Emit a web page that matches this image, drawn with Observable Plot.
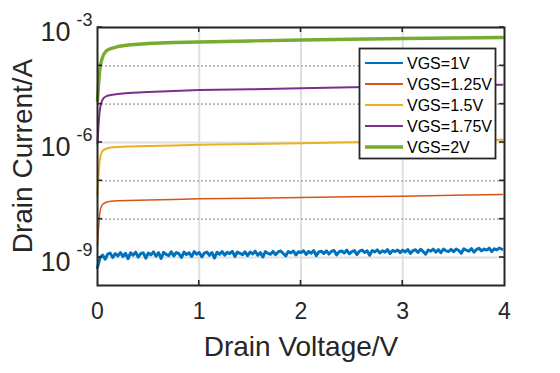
<!DOCTYPE html>
<html><head><meta charset="utf-8">
<script src="https://cdn.jsdelivr.net/npm/d3@7"></script>
<script src="https://cdn.jsdelivr.net/npm/@observablehq/plot@0.6"></script>
<style>
html,body{margin:0;padding:0;background:#fff;}
#chart{width:560px;height:373px;}
svg{font-family:"Liberation Sans",Arial,Helvetica,sans-serif;}
</style></head><body><div id="chart"></div>
<script>
// ---- data ----
const seriesNames = ["VGS=1V","VGS=1.25V","VGS=1.5V","VGS=1.75V","VGS=2V"];
const seriesColors = ["#0072BD","#D95319","#EDB120","#7E2F8E","#77AC30"];

// drain voltage (V) for the smooth curves
const vd = [0,0.01,0.02,0.03,0.045,0.06,0.09,0.13,0.2,0.3,0.5,0.75,1,1.5,2,2.5,3,3.5,3.98];
// drain current (A)
const id125 = [2.06e-9,5.70e-9,1.245e-8,1.897e-8,2.34e-8,2.56e-8,2.80e-8,2.92e-8,3.01e-8,3.07e-8,3.16e-8,3.26e-8,3.40e-8,3.50e-8,3.67e-8,3.83e-8,3.99e-8,4.19e-8,4.40e-8];
const id150 = [4.14e-8,1.377e-7,3.01e-7,4.58e-7,5.82e-7,6.37e-7,6.97e-7,7.40e-7,7.62e-7,7.85e-7,8.09e-7,8.34e-7,8.71e-7,9.14e-7,9.58e-7,1.012e-6,1.062e-6,1.127e-6,1.175e-6];
const id175 = [9.42e-7,2.77e-6,6.05e-6,9.23e-6,1.245e-5,1.449e-5,1.633e-5,1.734e-5,1.841e-5,1.954e-5,2.075e-5,2.203e-5,2.34e-5,2.44e-5,2.61e-5,2.75e-5,2.89e-5,3.07e-5,3.20e-5];
const id200 = [1.245e-5,3.07e-5,6.70e-5,1.084e-4,1.552e-4,1.977e-4,2.51e-4,2.83e-4,3.19e-4,3.49e-4,3.83e-4,4.06e-4,4.19e-4,4.45e-4,4.72e-4,4.95e-4,5.16e-4,5.32e-4,5.48e-4];

// VGS=1V noisy curve: drain voltage (mV) and drain current (nA)
const vdBlue_mV = [
0,25,50,75,100,125,150,175,200,225,
250,275,300,325,350,375,400,425,450,475,
500,525,550,575,600,625,650,675,700,725,
750,775,800,825,850,875,900,925,950,975,
1000,1025,1050,1075,1100,1125,1150,1175,1200,1225,
1250,1275,1300,1325,1350,1375,1400,1425,1450,1475,
1500,1525,1550,1575,1600,1625,1650,1675,1700,1725,
1750,1775,1800,1825,1850,1875,1900,1925,1950,1975,
2000,2025,2050,2075,2100,2125,2150,2175,2200,2225,
2250,2275,2300,2325,2350,2375,2400,2425,2450,2475,
2500,2525,2550,2575,2600,2625,2650,2675,2700,2725,
2750,2775,2800,2825,2850,2875,2900,2925,2950,2975,
3000,3025,3050,3075,3100,3125,3150,3175,3200,3225,
3250,3275,3300,3325,3350,3375,3400,3425,3450,3475,
3500,3525,3550,3575,3600,3625,3650,3675,3700,3725,
3750,3775,3800,3825,3850,3875,3900,3925,3950,3975];
const id100_nA = [
0.55,0.98,1.16,0.90,1.22,1.30,1.00,1.26,1.10,1.34,
1.06,1.29,0.93,1.33,1.15,1.38,1.03,1.27,1.32,0.96,
1.31,1.17,1.40,1.08,1.34,0.94,1.36,1.20,1.12,1.41,
1.10,1.35,1.26,1.00,1.38,1.19,1.33,1.06,1.42,1.22,
1.35,1.04,1.30,1.39,1.14,1.34,0.97,1.37,1.21,1.43,
1.15,1.36,1.26,1.45,1.07,1.38,1.29,1.18,1.41,1.11,
1.39,1.24,1.46,1.14,1.34,1.03,1.42,1.29,1.21,1.44,
1.18,1.40,1.48,1.27,1.10,1.43,1.32,1.47,1.16,1.41,
1.35,1.50,1.20,1.44,1.30,1.52,1.12,1.40,1.46,1.27,
1.49,1.23,1.45,1.53,1.17,1.41,1.48,1.31,1.55,1.25,
1.42,1.51,1.19,1.47,1.56,1.35,1.49,1.14,1.52,1.40,
1.58,1.31,1.50,1.38,1.60,1.26,1.53,1.43,1.57,1.34,
1.55,1.40,1.62,1.28,1.51,1.59,1.36,1.64,1.44,1.22,
1.57,1.46,1.65,1.38,1.61,1.33,1.67,1.49,1.43,1.63,
1.41,1.66,1.52,1.30,1.69,1.55,1.46,1.71,1.38,1.62,
1.73,1.49,1.66,1.56,1.75,1.43,1.69,1.58,1.77,1.64];

const xTicks = [0,1,2,3,4];
const yMajor = [1e-9,1e-6,1e-3];
const yMajorExp = ["-9","-6","-3"];
const yMinor = [1e-8,1e-7,1e-5,1e-4];
const yDomain = [1.86e-10,1e-3];
const xLabel = "Drain Voltage/V";
const yLabel = "Drain Current/A";

// ---- tables ----
const blueT = vdBlue_mV.map((v,i)=>({vd:v/1000, id:id100_nA[i]*1e-9}));
const mk = arr => vd.map((v,i)=>({vd:v, id:arr[i]}));
const tables = [blueT, mk(id125), mk(id150), mk(id175), mk(id200)];
const lineWidths = [3,1.5,2,2,3.4];
const legendWidths = [2,2,2,2,3.5];

const TXT = "#262626";
const FONT = '"Liberation Sans",Arial,Helvetica,sans-serif';
const lines = tables.map((t,i)=>Plot.line(t,{x:"vd",y:"id",stroke:seriesColors[i],strokeWidth:lineWidths[i],strokeLinejoin:"round"}));

const plot = Plot.plot({
  width:560, height:373,
  marginLeft:97, marginRight:56, marginTop:27, marginBottom:88,
  style:{background:"#fff", fontFamily:FONT, color:TXT},
  x:{domain:[0,4], axis:null, label:null},
  y:{type:"log", domain:yDomain, axis:null, label:null},
  marks:[
    Plot.ruleX(xTicks.slice(1,-1),{stroke:"#dfdfdf",strokeWidth:2}),
    Plot.ruleY(yMajor,{stroke:"#dfdfdf",strokeWidth:2}),
    Plot.ruleY(yMinor,{stroke:"#b5b5b5",strokeWidth:1.6,strokeDasharray:"2,2"}),
    ...lines,
    Plot.frame({stroke:TXT,strokeWidth:2}),
    Plot.text(xTicks,{x:d=>d,text:d=>String(d),frameAnchor:"bottom",dy:33,fontSize:23,fill:TXT}),
    Plot.text(yMajor,{y:d=>d,text:()=>"10",frameAnchor:"left",textAnchor:"end",dx:-27,dy:5,fontSize:27,fill:TXT}),
    Plot.text(yMajor,{y:d=>d,text:(d,i)=>yMajorExp[i],frameAnchor:"left",textAnchor:"end",dx:-5,dy:-7,fontSize:18,fill:TXT}),
    Plot.text([xLabel],{text:d=>d,frameAnchor:"bottom",dy:70,fontSize:28,fill:TXT})
  ]
});
document.getElementById("chart").appendChild(plot);

// ---- inward tick marks using the plot's scales ----
const sx = plot.scale("x"), sy = plot.scale("y");
const svg = d3.select(plot);
const tg = svg.append("g").attr("stroke",TXT).attr("stroke-width",1.6);
const yb = sy.apply(yDomain[0]), yt = sy.apply(yDomain[1]);
const xl = sx.apply(0), xr = sx.apply(4);
xTicks.slice(1,-1).forEach(t=>{
  const X = sx.apply(t);
  tg.append("line").attr("x1",X).attr("x2",X).attr("y1",yb).attr("y2",yb-5);
  tg.append("line").attr("x1",X).attr("x2",X).attr("y1",yt).attr("y2",yt+5);
});
[...yMajor,...yMinor].forEach(t=>{
  const Y = sy.apply(t);
  tg.append("line").attr("x1",xl).attr("x2",xl+5).attr("y1",Y).attr("y2",Y);
  tg.append("line").attr("x1",xr).attr("x2",xr-5).attr("y1",Y).attr("y2",Y);
});

// ---- y axis title ----
svg.append("text")
  .attr("transform",`translate(${xl-75},${(yb+yt)/2}) rotate(-90)`)
  .attr("text-anchor","middle").attr("dy","0.35em")
  .style("font-size","28px").style("font-family",FONT).attr("fill",TXT)
  .text(yLabel);

// ---- legend ----
const lg = svg.append("g");
lg.append("rect").attr("x",359.5).attr("y",48.5).attr("width",136).attr("height",110)
  .attr("fill","#fff").attr("stroke",TXT).attr("stroke-width",1.8);
seriesNames.forEach((n,i)=>{
  const Y = 63 + i*21;
  lg.append("line").attr("x1",365).attr("x2",403).attr("y1",Y).attr("y2",Y)
    .attr("stroke",seriesColors[i]).attr("stroke-width",legendWidths[i]);
  lg.append("text").attr("x",407).attr("y",Y).attr("dy","0.35em")
    .attr("text-anchor","start")
    .style("font-size","16px").style("font-family",FONT).attr("fill","#000").text(n);
});
</script></body></html>
